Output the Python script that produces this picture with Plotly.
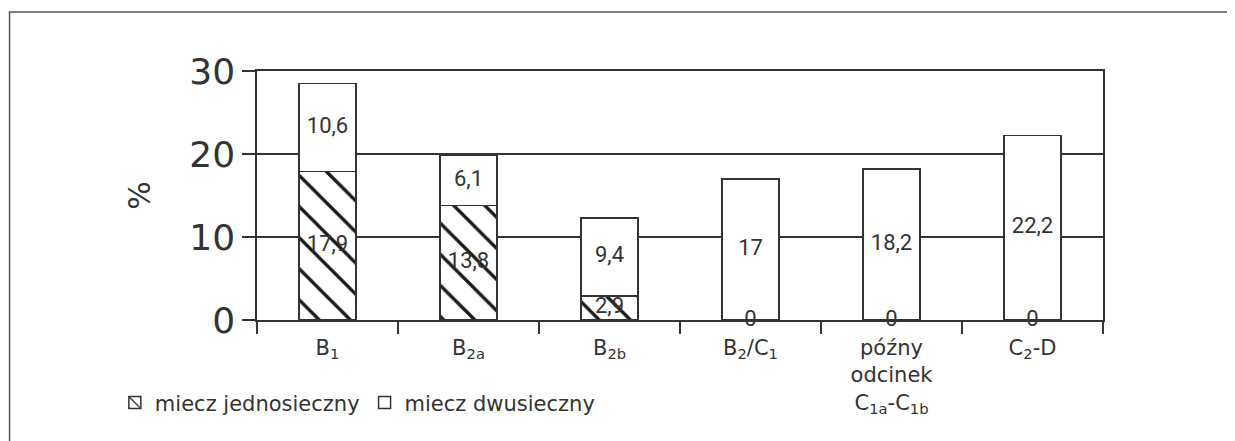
import plotly.graph_objects as go

categories = [
    "B<sub>1</sub>",
    "B<sub>2a</sub>",
    "B<sub>2b</sub>",
    "B<sub>2</sub>/C<sub>1</sub>",
    "późny<br>odcinek<br>C<sub>1a</sub>-C<sub>1b</sub>",
    "C<sub>2</sub>-D",
]
jednosieczny = [17.9, 13.8, 2.9, 0, 0, 0]
dwusieczny = [10.6, 6.1, 9.4, 17, 18.2, 22.2]
series_names = ["miecz jednosieczny", "miecz dwusieczny"]
y_ticks = [0, 10, 20, 30]

INK = "#333333"
FONT = "DejaVu Sans"


def fmt(v):
    return f"{v:g}".replace(".", ",")


fig = go.Figure()
fig.add_bar(
    x=categories, y=jednosieczny, name=series_names[0],
    marker=dict(color="white", line=dict(color=INK, width=1.5),
                pattern=dict(shape="\\", size=22, solidity=0.15, fgcolor="#1a1a1a",
                             fgopacity=1, bgcolor="white", fillmode="overlay")),
)
fig.add_bar(
    x=categories, y=dwusieczny, name=series_names[1],
    marker=dict(color="white", line=dict(color=INK, width=1.5)),
)
# value labels at segment centres
fig.add_scatter(
    x=categories, y=[v / 2 for v in jednosieczny], text=[fmt(v) for v in jednosieczny],
    mode="text", textfont=dict(family="Roboto", size=22, color=INK),
    showlegend=False, cliponaxis=False, hoverinfo="skip",
)
fig.add_scatter(
    x=categories, y=[a + b / 2 for a, b in zip(jednosieczny, dwusieczny)],
    text=[fmt(v) for v in dwusieczny],
    mode="text", textfont=dict(family="Roboto", size=22, color=INK),
    showlegend=False, cliponaxis=False, hoverinfo="skip",
)

fig.update_layout(
    template="none",
    width=1235, height=441,
    margin=dict(l=249, r=140, t=63, b=129, autoexpand=False),
    paper_bgcolor="white", plot_bgcolor="white",
    barmode="stack", bargap=0.596,
    font=dict(family=FONT, color=INK),
    showlegend=True,
    legend=dict(orientation="h", x=-0.168, xanchor="left", y=-0.333, yanchor="middle",
                font=dict(family=FONT, size=21, color=INK), traceorder="normal",
                bgcolor="rgba(0,0,0,0)"),
    xaxis=dict(
        type="category", tickson="boundaries", ticks="outside", ticklen=12,
        tickcolor=INK, tickwidth=1.5, showline=True, linecolor=INK, linewidth=1.5,
        mirror=True, showgrid=False, zeroline=False, ticklabelstandoff=8,
        tickfont=dict(family=FONT, size=21, color=INK), automargin=False,
    ),
    yaxis=dict(
        range=[0, 30], tickvals=y_ticks, ticks="outside", ticklen=13,
        tickcolor=INK, tickwidth=1.5, showline=True, linecolor=INK, linewidth=1.5,
        mirror=True, showgrid=True, gridcolor=INK, gridwidth=1.5, zeroline=False,
        tickfont=dict(family=FONT, size=36, color=INK),
        title=dict(text="%", font=dict(family=FONT, size=30, color=INK), standoff=30),
        automargin=False,
    ),
    shapes=[dict(type="rect", xref="paper", yref="paper",
                 x0=-0.2925, x1=1.17, y0=-0.52, y1=1.237,
                 line=dict(color="#555555", width=1.5), fillcolor="rgba(0,0,0,0)",
                 layer="below")],
)

fig.write_html("out.html")
